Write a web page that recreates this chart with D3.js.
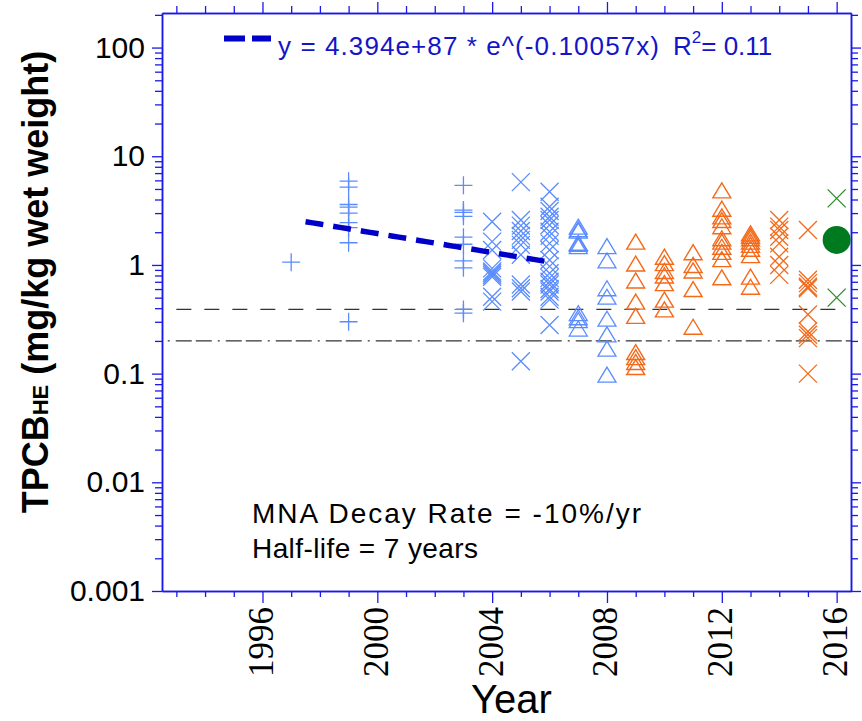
<!DOCTYPE html>
<html><head><meta charset="utf-8">
<script src="https://cdn.jsdelivr.net/npm/d3@7"></script>
<style>
html,body{margin:0;padding:0;background:#fff;}
svg{display:block;}
</style></head>
<body>
<script>
// ---------- DATA ----------
const xMajorTicks = [1996, 2000, 2004, 2008, 2012, 2016];
const xMinorTicks = [1993,1994,1995,1997,1998,1999,2001,2002,2003,2005,2006,2007,2009,2010,2011,2013,2014,2015];
const yMajorTicks = [0.001, 0.01, 0.1, 1, 10, 100];
const yTickLabels = ["0.001", "0.01", "0.1", "1", "10", "100"];

const bluePlus = [
  {year: 1997, values: [1.06]},
  {year: 1999, values: [5.9, 5.2, 3.6, 3.4, 3.0, 2.45, 2.2, 1.6, 0.3]},
  {year: 2003, values: [5.4, 3.2, 3.05, 2.8, 1.8, 1.55, 1.09, 0.94, 0.39, 0.36]}
];
const blueCross = [
  {year: 2004, values: [2.5, 1.64, 1.37, 0.93, 0.87, 0.84, 0.81, 0.78, 0.51, 0.46]},
  {year: 2005, values: [5.78, 2.59, 2.3, 2.05, 1.85, 1.7, 1.53, 1.24, 0.66, 0.61, 0.57, 0.13]},
  {year: 2006, values: [4.71, 3.43, 3.13, 2.78, 2.59, 2.33, 2.02, 1.85, 1.58, 1.37, 1.11, 0.97, 0.84, 0.76, 0.70, 0.66, 0.60, 0.57, 0.51, 0.48, 0.28]}
];
const blueTriangle = [
  {year: 2007, values: [2.25, 2.13, 2.07, 1.60, 1.56, 1.49, 0.36, 0.33, 0.31, 0.26]},
  {year: 2008, values: [1.49, 1.10, 0.61, 0.51, 0.32, 0.23, 0.17, 0.098]}
];
const orangeTriangle = [
  {year: 2009, values: [1.64, 1.03, 0.72, 0.46, 0.34, 0.158, 0.142, 0.128, 0.115]},
  {year: 2010, values: [1.19, 1.04, 0.88, 0.80, 0.68, 0.48, 0.39]},
  {year: 2011, values: [1.31, 1.0, 0.89, 0.60, 0.27]},
  {year: 2012, values: [4.85, 3.29, 2.80, 2.59, 2.27, 1.76, 1.64, 1.47, 1.32, 1.13, 0.77]},
  {year: 2013, values: [1.95, 1.85, 1.76, 1.64, 1.53, 1.41, 1.23, 0.78, 0.63]}
];
const orangeCross = [
  {year: 2014, values: [2.59, 2.25, 2.10, 1.82, 1.58, 1.19, 1.0, 0.81]},
  {year: 2015, values: [2.10, 0.73, 0.68, 0.63, 0.61, 0.35, 0.244, 0.228, 0.212, 0.10]}
];
const greenCross = [{year: 2016, values: [4.1, 0.5]}];
const greenCircle = [{year: 2016, values: [1.7]}];

// regression fit y = A * exp(B * x), drawn over the fitted year span
const fitA = 4.394e87, fitB = -0.10057;
const fitYears = [1997.5, 2006];
const fitLabel = "y = 4.394e+87 * e^(-0.10057x)";
const r2Label = "= 0.11";

// reference levels
const refDashed = {value: 0.39, from: 1993, to: 2016};
const refDashDot = {value: 0.2, from: 1992.7, to: 2016.5};

const noteLines = ["MNA Decay Rate = -10%/yr", "Half-life = 7 years"];

// ---------- LAYOUT ----------
const W = 862, H = 721;
const L = 162, T = 13, R = 851, B = 591;
const axisColor = "#1a1ae6";
const sans = "Arial, 'Liberation Sans', sans-serif";
const serif = "'Liberation Serif', 'DejaVu Serif', serif";

const svg = d3.select("body").append("svg").attr("width", W).attr("height", H);

const x = d3.scaleLinear().domain([1992.5, 2016.5]).range([L, R]);
const y = d3.scaleLog().domain([0.001, 208]).range([B, T]);

// minor y ticks
const yMinor = [];
for (let e = -3; e <= 2; e++) for (let m = 2; m <= 9; m++) {
  const v = m * Math.pow(10, e);
  if (v <= y.domain()[1]) yMinor.push(v);
}

function styleAxis(g) {
  g.selectAll("path.domain").attr("stroke", axisColor).attr("stroke-width", 1.5);
  g.selectAll(".tick line").attr("stroke", axisColor).attr("stroke-width", 1.3);
}

// bottom axis
svg.append("g").attr("transform", `translate(0,${B})`)
  .call(d3.axisBottom(x).tickValues(xMinorTicks).tickSize(6).tickSizeOuter(0).tickFormat(""))
  .call(styleAxis);
const xAx = svg.append("g").attr("transform", `translate(0,${B})`)
  .call(d3.axisBottom(x).tickValues(xMajorTicks).tickSize(12).tickSizeOuter(0).tickFormat(d3.format("d")))
  .call(styleAxis);
xAx.attr("font-family", serif);
xAx.selectAll(".tick text")
  .attr("transform", "rotate(-90)")
  .attr("x", -16).attr("y", 10).attr("dy", 0)
  .attr("text-anchor", "end")
  .style("font-family", serif).attr("font-size", 35).attr("fill", "#000");

// top axis
svg.append("g").attr("transform", `translate(0,${T})`)
  .call(d3.axisTop(x).tickValues(xMinorTicks).tickSize(7).tickSizeOuter(0).tickFormat(""))
  .call(styleAxis);
svg.append("g").attr("transform", `translate(0,${T})`)
  .call(d3.axisTop(x).tickValues(xMajorTicks).tickSize(11).tickSizeOuter(0).tickFormat(""))
  .call(styleAxis);

// left axis
svg.append("g").attr("transform", `translate(${L},0)`)
  .call(d3.axisLeft(y).tickValues(yMinor).tickSize(7).tickSizeOuter(0).tickFormat(""))
  .call(styleAxis);
const yAx = svg.append("g").attr("transform", `translate(${L},0)`)
  .call(d3.axisLeft(y).tickValues(yMajorTicks).tickSize(10).tickPadding(7).tickSizeOuter(0)
    .tickFormat((d, i) => yTickLabels[i]))
  .call(styleAxis);
yAx.selectAll(".tick text").style("font-family", sans).attr("font-size", 30).attr("fill", "#000");

// right axis
svg.append("g").attr("transform", `translate(${R},0)`)
  .call(d3.axisRight(y).tickValues(yMinor).tickSize(7).tickSizeOuter(0).tickFormat(""))
  .call(styleAxis);
svg.append("g").attr("transform", `translate(${R},0)`)
  .call(d3.axisRight(y).tickValues(yMajorTicks).tickSize(10).tickSizeOuter(0).tickFormat(""))
  .call(styleAxis);

// reference lines
svg.append("line")
  .attr("x1", x(refDashed.from)).attr("x2", x(refDashed.to))
  .attr("y1", y(refDashed.value)).attr("y2", y(refDashed.value))
  .attr("stroke", "#333").attr("stroke-width", 1.4).attr("stroke-dasharray", "15,13");
svg.append("line")
  .attr("x1", x(refDashDot.from)).attr("x2", x(refDashDot.to))
  .attr("y1", y(refDashDot.value)).attr("y2", y(refDashDot.value))
  .attr("stroke", "#333").attr("stroke-width", 1.4).attr("stroke-dasharray", "2,6,16,4,16,6");

// markers
const shapes = {
  plus: "M-9,0H9M0,-9V9",
  cross: "M-9,-9L9,9M-9,9L9,-9",
  tri: "M0,-7.5L9,7.5L-9,7.5Z"
};
function flat(series) {
  const out = [];
  series.forEach(s => s.values.forEach(v => out.push({year: s.year, v})));
  return out;
}
function drawMarks(series, shape, color, sw) {
  svg.append("g").selectAll("path").data(flat(series)).join("path")
    .attr("d", shapes[shape])
    .attr("transform", d => `translate(${x(d.year)},${y(d.v)})`)
    .attr("fill", "none").attr("stroke", color).attr("stroke-width", sw);
}
const lightBlue = "#5a8cff", orange = "#f46a1a", green = "#2c8c2c";
drawMarks(bluePlus, "plus", lightBlue, 1.3);
drawMarks(blueCross, "cross", lightBlue, 1.3);
drawMarks(blueTriangle, "tri", lightBlue, 1.3);
drawMarks(orangeTriangle, "tri", orange, 1.4);
drawMarks(orangeCross, "cross", orange, 1.3);
drawMarks(greenCross, "cross", green, 1.3);
svg.append("g").selectAll("circle").data(flat(greenCircle)).join("circle")
  .attr("cx", d => x(d.year)).attr("cy", d => y(d.v)).attr("r", 14)
  .attr("fill", "#007a1e");

// fit line
const fitPts = d3.range(fitYears[0], fitYears[1] + 0.001, 0.25).map(t => [t, fitA * Math.exp(fitB * t)]);
svg.append("path")
  .attr("d", d3.line().x(d => x(d[0])).y(d => y(d[1]))(fitPts))
  .attr("fill", "none").attr("stroke", "#0000c8").attr("stroke-width", 5.5)
  .attr("stroke-dasharray", "18,10");

// legend
svg.append("line").attr("x1", 224).attr("x2", 271).attr("y1", 38.5).attr("y2", 38.5)
  .attr("stroke", "#0000c8").attr("stroke-width", 6).attr("stroke-dasharray", "21,7");
svg.append("text").attr("x", 278).attr("y", 55)
  .attr("font-family", sans).attr("font-size", 26).attr("fill", "#1414c8")
  .attr("textLength", 381).attr("lengthAdjust", "spacing")
  .text(fitLabel);
const legR = svg.append("text").attr("x", 673).attr("y", 55)
  .attr("font-family", sans).attr("font-size", 26).attr("fill", "#1414c8");
legR.append("tspan").text("R");
legR.append("tspan").attr("font-size", 17).attr("dy", -12).text("2");
legR.append("tspan").attr("dy", 12).text(r2Label);

// notes
const noteWidths = [389, 226];
svg.append("g").selectAll("text").data(noteLines).join("text")
  .attr("x", 252).attr("y", (d, i) => 523 + i * 35)
  .attr("font-family", sans).attr("font-size", 28).attr("fill", "#000")
  .attr("textLength", (d, i) => noteWidths[i]).attr("lengthAdjust", "spacing")
  .text(d => d);

// axis titles
svg.append("text").attr("x", (L + R) / 2 + 5).attr("y", 713)
  .attr("text-anchor", "middle").attr("font-family", sans).attr("font-size", 40).attr("fill", "#000")
  .text("Year");
const yt = svg.append("text").attr("transform", `translate(48,282) rotate(-90)`)
  .attr("text-anchor", "middle").attr("font-family", sans).attr("font-weight", "bold")
  .attr("font-size", 36).attr("fill", "#000");
yt.append("tspan").text("TPCB");
yt.append("tspan").attr("font-size", 22).text("HE");
yt.append("tspan").text(" (mg/kg wet weight)");
</script>
</body></html>
